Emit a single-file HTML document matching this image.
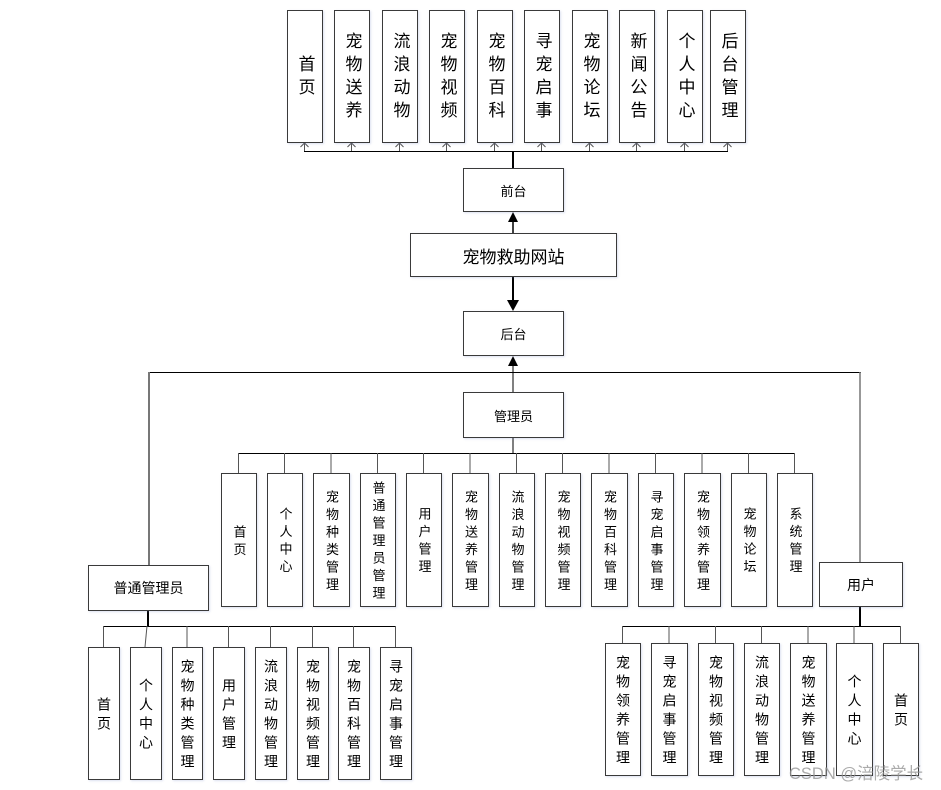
<!DOCTYPE html>
<html><head><meta charset="utf-8">
<style>
html,body{margin:0;padding:0;background:#fff;}
body{width:941px;height:790px;position:relative;overflow:hidden;font-family:"Liberation Sans","Noto Sans CJK SC",sans-serif;color:#000;}
.b{position:absolute;box-sizing:border-box;border:1px solid #3a3a3a;background:#fff;display:flex;align-items:center;justify-content:center;box-shadow:1px 1px 2px rgba(120,140,200,0.25);}
.v{writing-mode:vertical-rl;position:relative;white-space:nowrap;}
.t .v{font-size:17px;letter-spacing:6px;top:1px;}
.a .v{font-size:13px;letter-spacing:4.5px;top:2px;}
.c .v{font-size:14px;letter-spacing:5px;top:2.5px;}
.h{font-size:13px;}
svg{position:absolute;left:0;top:0;}
.wm{position:absolute;left:789px;top:760px;font-size:16.5px;color:rgba(150,150,150,0.8);white-space:nowrap;}
</style></head><body>
<svg width="941" height="790">
<g stroke="#000" stroke-width="1" fill="none">
<line x1="304" y1="151.5" x2="728" y2="151.5"/>
<g stroke="#555">
<line x1="304.5" y1="151" x2="304.5" y2="143"/><line x1="351.5" y1="151" x2="351.5" y2="143"/><line x1="399.5" y1="151" x2="399.5" y2="143"/><line x1="446.5" y1="151" x2="446.5" y2="143"/><line x1="494.5" y1="151" x2="494.5" y2="143"/><line x1="541.5" y1="151" x2="541.5" y2="143"/><line x1="589.5" y1="151" x2="589.5" y2="143"/><line x1="636.5" y1="151" x2="636.5" y2="143"/><line x1="684.5" y1="151" x2="684.5" y2="143"/><line x1="727.5" y1="151" x2="727.5" y2="143"/>
<path d="M300.5 147 L304.5 143 L308.5 147 M347.5 147 L351.5 143 L355.5 147 M395.5 147 L399.5 143 L403.5 147 M442.5 147 L446.5 143 L450.5 147 M490.5 147 L494.5 143 L498.5 147 M537.5 147 L541.5 143 L545.5 147 M585.5 147 L589.5 143 L593.5 147 M632.5 147 L636.5 143 L640.5 147 M680.5 147 L684.5 143 L688.5 147 M723.5 147 L727.5 143 L731.5 147"/>
</g>
<line x1="513" y1="151" x2="513" y2="168" stroke-width="2"/>
<line x1="513" y1="233" x2="513" y2="220" stroke-width="1.5"/>
<line x1="513" y1="276" x2="513" y2="302" stroke-width="2"/>
<line x1="513" y1="392" x2="513" y2="364"/>
<line x1="148" y1="372.5" x2="861" y2="372.5"/>
<line x1="149" y1="372" x2="149" y2="565" stroke="#777" stroke-width="2"/>
<line x1="860" y1="372" x2="860" y2="562" stroke="#777" stroke-width="1.5"/>
<line x1="513" y1="437" x2="513" y2="453"/>
<line x1="238" y1="453.5" x2="795" y2="453.5"/>
<g stroke="#555">
<line x1="238.5" y1="453" x2="238.5" y2="473"/><line x1="284.5" y1="453" x2="284.5" y2="473"/><line x1="331" y1="453" x2="331" y2="473"/><line x1="377.5" y1="453" x2="377.5" y2="473"/><line x1="423.5" y1="453" x2="423.5" y2="473"/><line x1="470" y1="453" x2="470" y2="473"/><line x1="516.5" y1="453" x2="516.5" y2="473"/><line x1="562.5" y1="453" x2="562.5" y2="473"/><line x1="609" y1="453" x2="609" y2="473"/><line x1="655.5" y1="453" x2="655.5" y2="473"/><line x1="702" y1="453" x2="702" y2="473"/><line x1="748.5" y1="453" x2="748.5" y2="473"/><line x1="794.5" y1="453" x2="794.5" y2="473"/>
</g>
<line x1="148" y1="610" x2="148" y2="626" stroke-width="2"/>
<line x1="103" y1="626.5" x2="396" y2="626.5"/>
<g stroke="#555">
<line x1="103.5" y1="626" x2="103.5" y2="647"/><line x1="147" y1="626" x2="145" y2="647"/><line x1="187" y1="626" x2="187" y2="647"/><line x1="228.5" y1="626" x2="228.5" y2="647"/><line x1="270.5" y1="626" x2="270.5" y2="647"/><line x1="312.5" y1="626" x2="312.5" y2="647"/><line x1="353.5" y1="626" x2="353.5" y2="647"/><line x1="395.5" y1="626" x2="395.5" y2="647"/>
</g>
<line x1="860" y1="606" x2="860" y2="626" stroke-width="2"/>
<line x1="622" y1="626.5" x2="901" y2="626.5"/>
<g stroke="#555">
<line x1="622.5" y1="626" x2="622.5" y2="643"/><line x1="669" y1="626" x2="669" y2="643"/><line x1="715.5" y1="626" x2="715.5" y2="643"/><line x1="761.5" y1="626" x2="761.5" y2="643"/><line x1="808" y1="626" x2="808" y2="643"/><line x1="854" y1="626" x2="854" y2="643"/><line x1="900.5" y1="626" x2="900.5" y2="643"/>
</g>
</g>
<g fill="#000">
<path d="M508 222 L518 222 L513 212 Z"/>
<path d="M507 300 L519 300 L513 311 Z"/>
<path d="M508 366 L518 366 L513 356 Z"/>
</g>
</svg>

<div class="b t" style="left:287px;top:10px;width:36px;height:133px"><span class="v">首页</span></div>
<div class="b t" style="left:334px;top:10px;width:36px;height:133px"><span class="v">宠物送养</span></div>
<div class="b t" style="left:382px;top:10px;width:36px;height:133px"><span class="v">流浪动物</span></div>
<div class="b t" style="left:429px;top:10px;width:36px;height:133px"><span class="v">宠物视频</span></div>
<div class="b t" style="left:477px;top:10px;width:36px;height:133px"><span class="v">宠物百科</span></div>
<div class="b t" style="left:524px;top:10px;width:36px;height:133px"><span class="v">寻宠启事</span></div>
<div class="b t" style="left:572px;top:10px;width:36px;height:133px"><span class="v">宠物论坛</span></div>
<div class="b t" style="left:619px;top:10px;width:36px;height:133px"><span class="v">新闻公告</span></div>
<div class="b t" style="left:667px;top:10px;width:36px;height:133px"><span class="v">个人中心</span></div>
<div class="b t" style="left:710px;top:10px;width:36px;height:133px"><span class="v">后台管理</span></div>

<div class="b h" style="left:463px;top:168px;width:101px;height:44px">前台</div>
<div class="b" style="left:410px;top:233px;width:207px;height:44px;font-size:17px">宠物救助网站</div>
<div class="b h" style="left:463px;top:311px;width:101px;height:45px">后台</div>
<div class="b h" style="left:463px;top:392px;width:101px;height:46px">管理员</div>
<div class="b" style="left:88px;top:565px;width:121px;height:46px;font-size:14px">普通管理员</div>
<div class="b" style="left:819px;top:562px;width:84px;height:45px;font-size:14px">用户</div>

<div class="b a" style="left:221px;top:473px;width:36px;height:134px"><span class="v">首页</span></div>
<div class="b a" style="left:267px;top:473px;width:36px;height:134px"><span class="v">个人中心</span></div>
<div class="b a" style="left:313px;top:473px;width:37px;height:134px"><span class="v">宠物种类管理</span></div>
<div class="b a" style="left:360px;top:473px;width:36px;height:134px"><span class="v">普通管理员管理</span></div>
<div class="b a" style="left:406px;top:473px;width:36px;height:134px"><span class="v">用户管理</span></div>
<div class="b a" style="left:452px;top:473px;width:37px;height:134px"><span class="v">宠物送养管理</span></div>
<div class="b a" style="left:499px;top:473px;width:36px;height:134px"><span class="v">流浪动物管理</span></div>
<div class="b a" style="left:545px;top:473px;width:36px;height:134px"><span class="v">宠物视频管理</span></div>
<div class="b a" style="left:591px;top:473px;width:37px;height:134px"><span class="v">宠物百科管理</span></div>
<div class="b a" style="left:638px;top:473px;width:36px;height:134px"><span class="v">寻宠启事管理</span></div>
<div class="b a" style="left:684px;top:473px;width:37px;height:134px"><span class="v">宠物领养管理</span></div>
<div class="b a" style="left:731px;top:473px;width:36px;height:134px"><span class="v">宠物论坛</span></div>
<div class="b a" style="left:777px;top:473px;width:36px;height:134px"><span class="v">系统管理</span></div>

<div class="b c" style="left:88px;top:647px;width:32px;height:133px"><span class="v">首页</span></div>
<div class="b c" style="left:130px;top:647px;width:32px;height:133px"><span class="v">个人中心</span></div>
<div class="b c" style="left:172px;top:647px;width:31px;height:133px"><span class="v">宠物种类管理</span></div>
<div class="b c" style="left:213px;top:647px;width:32px;height:133px"><span class="v">用户管理</span></div>
<div class="b c" style="left:255px;top:647px;width:32px;height:133px"><span class="v">流浪动物管理</span></div>
<div class="b c" style="left:297px;top:647px;width:32px;height:133px"><span class="v">宠物视频管理</span></div>
<div class="b c" style="left:338px;top:647px;width:32px;height:133px"><span class="v">宠物百科管理</span></div>
<div class="b c" style="left:380px;top:647px;width:32px;height:133px"><span class="v">寻宠启事管理</span></div>

<div class="b c" style="left:605px;top:643px;width:36px;height:133px"><span class="v">宠物领养管理</span></div>
<div class="b c" style="left:651px;top:643px;width:37px;height:133px"><span class="v">寻宠启事管理</span></div>
<div class="b c" style="left:698px;top:643px;width:36px;height:133px"><span class="v">宠物视频管理</span></div>
<div class="b c" style="left:744px;top:643px;width:36px;height:133px"><span class="v">流浪动物管理</span></div>
<div class="b c" style="left:790px;top:643px;width:37px;height:133px"><span class="v">宠物送养管理</span></div>
<div class="b c" style="left:836px;top:643px;width:37px;height:133px"><span class="v">个人中心</span></div>
<div class="b c" style="left:883px;top:643px;width:36px;height:133px"><span class="v">首页</span></div>

<div class="wm">CSDN @涪陵学长</div>
</body></html>
